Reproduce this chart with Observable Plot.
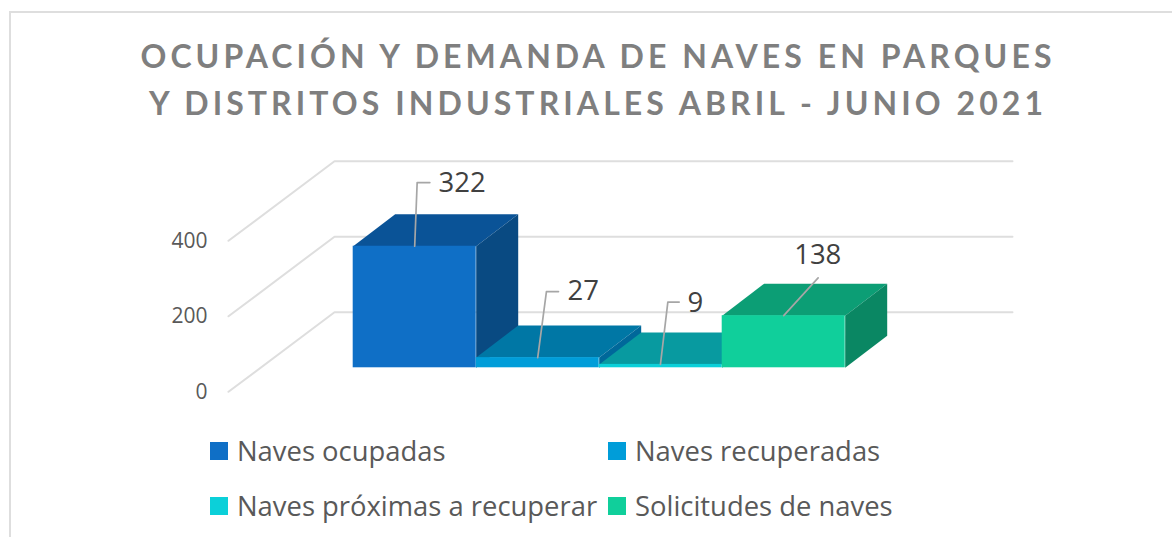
<!DOCTYPE html>
<html lang="es">
<head>
<meta charset="utf-8">
<script src="https://cdn.jsdelivr.net/npm/d3@7"></script>
<script src="https://cdn.jsdelivr.net/npm/@observablehq/plot@0.6"></script>
<style>
html,body{margin:0;padding:0;background:#fff;}
#page{position:relative;width:1172px;height:537px;overflow:hidden;background:#fff;}
#frame{position:absolute;left:8.5px;top:10.5px;width:1170px;height:540px;border:2px solid #dedede;box-sizing:border-box;}
#title{position:absolute;left:0;top:32px;width:1196px;text-align:center;font:700 32px/47px Lato,sans-serif;letter-spacing:4.07px;color:#7f7f7f;white-space:nowrap;}
#chart{position:absolute;left:0;top:140px;}
#chart svg{display:block;}
.lg{position:absolute;font:27.4px/30px "Open Sans",sans-serif;color:#595959;white-space:nowrap;}
.sw{position:absolute;width:18px;height:18px;}
</style>
</head>
<body>
<div id="page">
  <div id="frame"></div>
  <div id="title">OCUPACIÓN Y DEMANDA DE NAVES EN PARQUES<br>Y DISTRITOS INDUSTRIALES ABRIL - JUNIO 2021</div>
  <div id="chart"></div>
</div>
<script>
// Data
const categories = ["Naves ocupadas", "Naves recuperadas", "Naves próximas a recuperar", "Solicitudes de naves"];
const values = [322, 27, 9, 138];
const yTicks = [0, 200, 400];

// Colours
const frontColors = ["#0f6fc6", "#009dd9", "#0bd0d9", "#10cf9b"];
const topColors = ["#0a5397", "#0077a5", "#089aa0", "#0c9e75"];
const sideColors = ["#094a82", "#00689a", "#07878c", "#0a8763"];

// Pseudo-3D projection, in data units (categories on x, value units on y)
const floorValue = 63.6;      // front of the bars above the front of the axis
const barDepthX = 0.3415, barDepthY = 84.8;
const wallFrontX = -1.014, wallBackX = -0.152, wallRightX = 5.36, wallRise = 210.9;

// Data labels and leaders, relative to each bar's front-top edge
const leaderStart = [0.50, 0.50, 0.498, 0.50];
const leaderElbowX = [0.52, 0.571, 0.558, 0.78];
const leaderEndX = [0.623, 0.669, 0.65, 0.78];
const leaderRise = [168.7, 175, 165, 100];
const labelX = [0.694, 0.742, 0.717, 0.585];
const labelRise = [166, 175, 162, 159];

const barTop = v => floorValue + v;
const faces = [];
values.forEach((v, i) => {
  const t = barTop(v), b = floorValue;
  const addFace = (id, color, pts) => pts.forEach(([x, y]) => faces.push({id: id + i, color, x, y}));
  addFace("top", topColors[i], [[i, t], [i + 1, t], [i + 1 + barDepthX, t + barDepthY], [i + barDepthX, t + barDepthY]]);
  addFace("side", sideColors[i], [[i + 1, t], [i + 1 + barDepthX, t + barDepthY], [i + 1 + barDepthX, b + barDepthY], [i + 1, b]]);
});
const fronts = values.map((v, i) => ({x1: i, x2: i + 1, y1: floorValue, y2: barTop(v), color: frontColors[i]}));

const grid = yTicks.flatMap(t => [
  {t, x: wallFrontX, y: t},
  {t, x: wallBackX, y: t + wallRise},
  {t, x: wallRightX, y: t + wallRise}
]);

const leaders = values.flatMap((v, i) => [
  {i, x: i + leaderStart[i], y: barTop(v)},
  {i, x: i + leaderElbowX[i], y: barTop(v) + leaderRise[i]},
  {i, x: i + leaderEndX[i], y: barTop(v) + leaderRise[i]}
]);
const labels = values.map((v, i) => ({x: i + labelX[i], y: barTop(v) + labelRise[i], text: String(v)}));

const pxPerCat = 123, originX = 352.7;
const plot = Plot.plot({
  width: 1172,
  height: 270,
  marginLeft: 207,
  marginTop: 0, marginRight: 0, marginBottom: 0,
  style: {background: "transparent", overflow: "visible"},
  x: {type: "linear", domain: [-2, 6], range: [originX - 2 * pxPerCat, originX + 6 * pxPerCat], axis: null},
  y: {type: "linear", domain: [0, 620], range: [251.3, 251.3 - 620 * 0.3775], axis: null},
  color: {type: "identity"},
  marks: [
    Plot.line(grid, {x: "x", y: "y", z: "t", stroke: "#dedede", strokeWidth: 2, curve: "linear"}),
    Plot.axisY({
      ticks: yTicks, tickSize: 0, tickPadding: 0, label: null,
      fontFamily: "Open Sans", fontSize: 21, fill: "#595959"
    }),
    Plot.line(faces, {x: "x", y: "y", z: "id", fill: "color", stroke: null, curve: "linear"}),
    Plot.rect(fronts, {x1: "x1", x2: "x2", y1: "y1", y2: "y2", fill: "color"}),
    Plot.line(leaders, {x: "x", y: "y", z: "i", stroke: "#a6a6a6", strokeWidth: 1.7, curve: "linear"}),
    Plot.text(labels, {x: "x", y: "y", text: "text", textAnchor: "start", fontFamily: "Open Sans", fontSize: 27.5, fill: "#404040"})
  ]
});
document.getElementById("chart").appendChild(plot);

// Legend
const page = document.getElementById("page");
const legendPlace = [[210, 442], [608, 442], [210, 497], [608, 497]];
categories.forEach((c, i) => {
  const s = document.createElement("div");
  s.className = "sw";
  s.style.cssText = `left:${legendPlace[i][0]}px;top:${legendPlace[i][1]}px;background:${frontColors[i]}`;
  const t = document.createElement("div");
  t.className = "lg";
  t.textContent = c;
  t.style.left = legendPlace[i][0] + 27 + "px";
  t.style.top = legendPlace[i][1] - 6 + "px";
  page.append(s, t);
});
</script>
</body>
</html>
